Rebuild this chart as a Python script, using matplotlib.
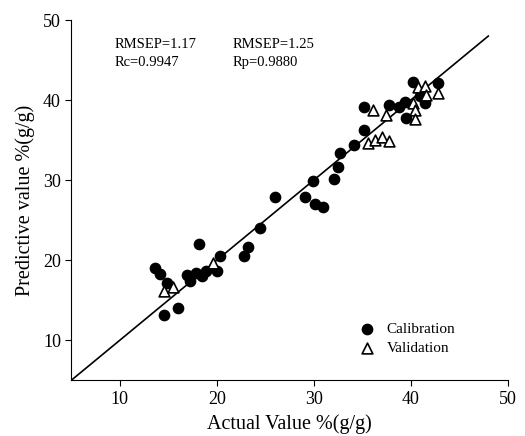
import numpy as np
import matplotlib
matplotlib.use("Agg")
import matplotlib.pyplot as plt

plt.rcParams['font.family'] = ['Liberation Serif', 'DejaVu Serif']

# calibration set (actual, predicted)
cal_x = [13.6, 14.1, 14.9, 14.6, 16.0, 16.9, 17.2, 17.9, 18.5, 18.9, 18.2, 20.0, 20.3,
         22.8, 23.2, 24.5, 26.0, 29.1, 29.9, 30.1, 30.9, 32.1, 32.5, 32.7, 34.2, 35.2,
         35.2, 37.8, 38.8, 39.4, 39.5, 40.2, 41.5, 42.8, 41.0]
cal_y = [19.0, 18.3, 17.1, 13.2, 14.0, 18.2, 17.4, 18.4, 18.0, 18.6, 22.0, 18.7, 20.5,
         20.5, 21.6, 24.0, 27.9, 27.9, 29.9, 27.0, 26.7, 30.1, 31.6, 33.4, 34.4, 36.2,
         39.1, 39.4, 39.1, 39.8, 37.7, 42.3, 39.6, 42.1, 40.5]

# validation set
val_x = [14.6, 15.5, 19.6, 35.6, 36.3, 37.0, 37.8, 36.1, 37.5, 40.2, 40.4, 40.4, 40.8,
         41.5, 41.6, 42.8]
val_y = [16.1, 16.7, 19.6, 34.7, 35.0, 35.4, 34.9, 38.8, 38.1, 39.6, 38.7, 37.6, 41.6,
         41.7, 40.6, 40.9]

stats_cal = ["RMSEP=1.17", "Rc=0.9947"]
stats_val = ["RMSEP=1.25", "Rp=0.9880"]

fig = plt.figure(figsize=(5.25, 4.36), dpi=100)
ax = fig.add_axes([0.136, 0.128, 0.831, 0.826])

ax.plot([5, 48], [5, 48], color='black', lw=1.2, zorder=1)
ax.scatter(cal_x, cal_y, s=55, c='black', marker='o', label='Calibration', zorder=2)
ax.scatter(val_x, val_y, s=60, facecolors='white', edgecolors='black', linewidths=1.2,
           marker='^', label='Validation', zorder=3)

ax.set_xlim(5, 50)
ax.set_ylim(5, 50)
ax.set_xticks([10, 20, 30, 40, 50])
ax.set_yticks([10, 20, 30, 40, 50])
ax.tick_params(labelsize=13, direction='out', length=4)
ax.spines['top'].set_visible(False)
ax.spines['right'].set_visible(False)

ax.set_xlabel('Actual Value %(g/g)', fontsize=14.5, labelpad=5)
ax.set_ylabel('Predictive value %(g/g)', fontsize=14.5, labelpad=6)

ax.text(9.5, 47.0, stats_cal[0], fontsize=10.5, va='center')
ax.text(9.5, 44.7, stats_cal[1], fontsize=10.5, va='center')
ax.text(21.6, 47.0, stats_val[0], fontsize=10.5, va='center')
ax.text(21.6, 44.7, stats_val[1], fontsize=10.5, va='center')

ax.legend(loc='upper left', bbox_to_anchor=(0.61, 0.2), frameon=False, fontsize=11,
          handletextpad=0.3, labelspacing=0.35)

fig.savefig('out.png', dpi=100)
